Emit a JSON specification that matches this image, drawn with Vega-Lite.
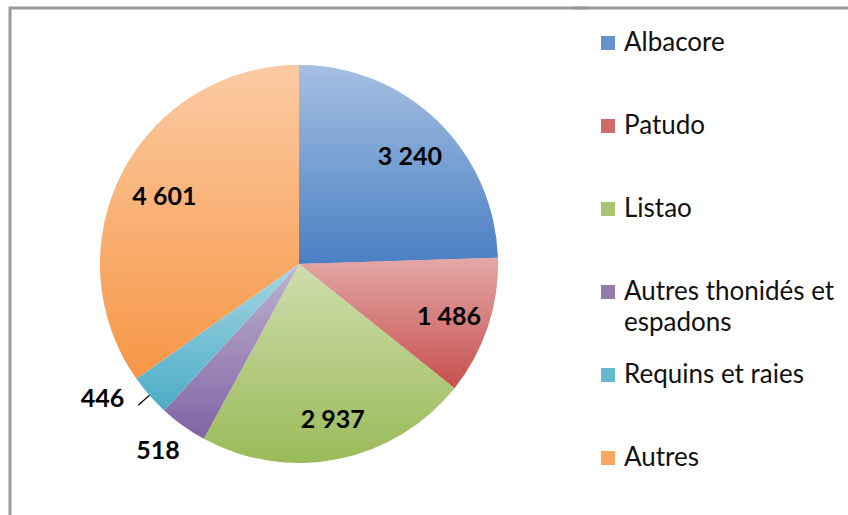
{
  "$schema": "https://vega.github.io/schema/vega-lite/v6.json",
  "width": 578,
  "height": 512,
  "padding": {"left": 10, "top": 8, "right": 260, "bottom": 0},
  "autosize": {"type": "none"},
  "background": "white",
  "view": {"stroke": "#9a9a9a", "strokeWidth": 3, "strokeDash": [578, 512, 1200]},
  "config": {
    "view": {"stroke": "#9a9a9a", "strokeWidth": 3, "strokeDash": [578, 512, 1200]},
    "locale": {"number": {"decimal": ",", "thousands": " ", "grouping": [3], "currency": ["", " €"]}},
    "legend": {"strokeDash": [277, 10000], "strokeWidth": 3}
  },
  "data": {
    "values": [
      {"category": "Albacore", "value": 3240, "idx": 1},
      {"category": "Patudo", "value": 1486, "idx": 2},
      {"category": "Listao", "value": 2937, "idx": 3},
      {"category": "Autres thonidés et espadons", "value": 518, "idx": 4},
      {"category": "Requins et raies", "value": 446, "idx": 5},
      {"category": "Autres", "value": 4601, "idx": 6}
    ]
  },
  "encoding": {
    "theta": {"field": "value", "type": "quantitative", "stack": true},
    "order": {"field": "idx", "type": "quantitative"}
  },
  "layer": [
    {
      "mark": {"type": "arc", "radius": 199},
      "encoding": {
        "color": {
          "field": "category",
          "type": "nominal",
          "sort": null,
          "scale": {
            "domain": ["Albacore", "Patudo", "Listao", "Autres thonidés et espadons", "Requins et raies", "Autres"],
            "range": ["#4a80c4", "#c6504d", "#9bbb59", "#8064a2", "#4bacc6", "#f79646"]
          },
          "legend": {
            "orient": "none",
            "legendX": 563,
            "legendY": 0,
            "title": null,
            "padding": 22,
            "strokeColor": "#9a9a9a",
            "symbolType": "square",
            "symbolSize": 196,
            "symbolStrokeWidth": 0,
            "symbolOpacity": 0.85,
            "labelFont": "Lato",
            "labelFontSize": 26,
            "labelColor": "#111111",
            "labelOffset": 3,
            "labelLimit": 400,
            "rowPadding": 26,
            "labelExpr": "datum.label == 'Autres thonidés et espadons' ? ['Autres thonidés et', 'espadons'] : [datum.label, '']",
            "encode": {"labels": {"update": {"lineHeight": {"value": 31}}}}
          }
        }
      }
    },
    {
      "mark": {
        "type": "arc",
        "radius": 199,
        "fill": {
          "gradient": "linear",
          "x1": 0, "y1": 0, "x2": 0, "y2": 1,
          "stops": [
            {"offset": 0, "color": "rgba(255,255,255,0.5)"},
            {"offset": 1, "color": "rgba(255,255,255,0)"}
          ]
        }
      }
    },
    {
      "mark": {
        "type": "arc",
        "radius": 214,
        "radius2": 199,
        "padAngle": 0.6,
        "fill": null,
        "stroke": "black",
        "strokeWidth": 1.2
      },
      "encoding": {
        "strokeOpacity": {"condition": {"test": "datum.category === 'Requins et raies'", "value": 1}, "value": 0}
      }
    },
    {
      "mark": {"type": "text", "radius": 155, "dx": 3, "dy": 4, "font": "Lato", "fontWeight": "bold", "fontSize": 25, "color": "black"},
      "encoding": {
        "text": {"field": "value", "type": "quantitative", "format": ",d"},
        "opacity": {"condition": {"test": "datum.value > 1000", "value": 1}, "value": 0}
      }
    },
    {
      "mark": {"type": "text", "radius": 230, "dx": -7, "dy": 0, "font": "Lato", "fontWeight": "bold", "fontSize": 25, "color": "black"},
      "encoding": {
        "text": {"field": "value", "type": "quantitative", "format": ",d"},
        "opacity": {"condition": {"test": "datum.category === 'Autres thonidés et espadons'", "value": 1}, "value": 0}
      }
    },
    {
      "mark": {"type": "text", "radius": 214, "dx": -14, "dy": -6, "align": "right", "font": "Lato", "fontWeight": "bold", "fontSize": 25, "color": "black"},
      "encoding": {
        "text": {"field": "value", "type": "quantitative", "format": ",d"},
        "opacity": {"condition": {"test": "datum.category === 'Requins et raies'", "value": 1}, "value": 0}
      }
    }
  ]
}
